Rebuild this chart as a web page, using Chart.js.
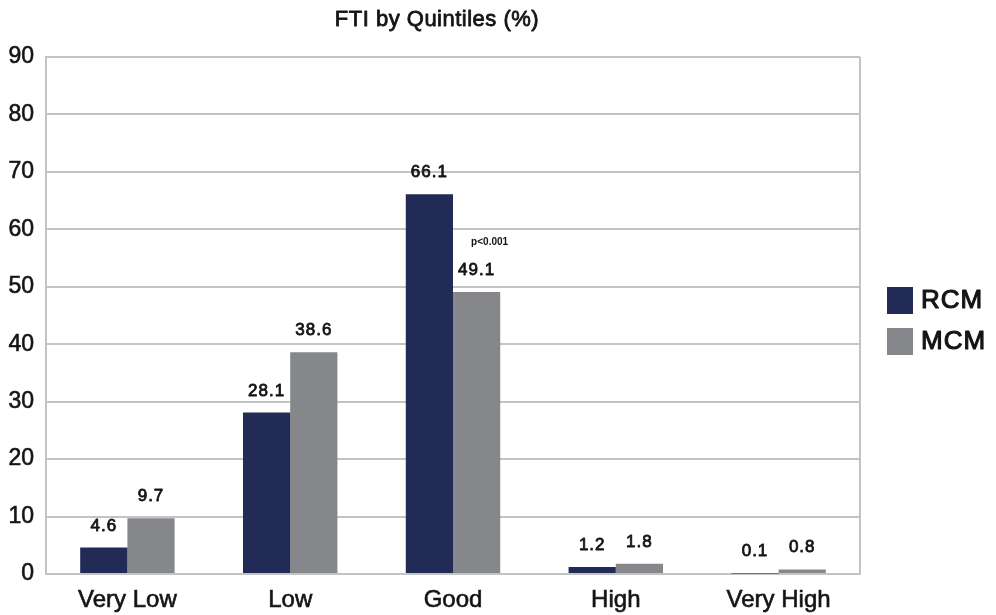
<!DOCTYPE html>
<html>
<head>
<meta charset="utf-8">
<script src="https://cdn.jsdelivr.net/npm/chart.js@4/dist/chart.umd.min.js"></script>
<style>
  html, body { margin: 0; padding: 0; background: #fff; }
  #wrap { width: 996px; height: 615px; position: relative; }
</style>
</head>
<body>
<div id="wrap"><canvas id="c" width="996" height="615"></canvas></div>
<script>
// Quintile categories and the share of each group (%)
const categories = ['Very Low', 'Low', 'Good', 'High', 'Very High'];
const rcmValues = [4.6, 28.1, 66.1, 1.2, 0.1];
const mcmValues = [9.7, 38.6, 49.1, 1.8, 0.8];
const seriesNames = ['RCM', 'MCM'];
const yTicks = [0, 10, 20, 30, 40, 50, 60, 70, 80, 90];
const chartTitle = 'FTI by Quintiles (%)';
const pNote = 'p<0.001';

const FONT = '"Liberation Sans", Arial, Helvetica, sans-serif';
const COLORS = ['#222b55', '#86878b'];
const GRID = '#c3c3c3';
const INK = '#141414';

// text with a thin outline in the same ink, for a medium weight
function heavyText(ctx, text, x, y, w) {
  ctx.lineWidth = w;
  ctx.strokeStyle = ctx.fillStyle;
  ctx.lineJoin = 'round';
  ctx.strokeText(text, x, y);
  ctx.fillText(text, x, y);
}

const decor = {
  id: 'decor',
  beforeDatasetsDraw(chart) {
    const { ctx, chartArea: a } = chart;
    ctx.save();
    ctx.strokeStyle = GRID;
    ctx.lineWidth = 2;
    ctx.beginPath();
    ctx.moveTo(a.right, a.top);
    ctx.lineTo(a.right, a.bottom);
    ctx.stroke();
    ctx.restore();
  },
  afterDatasetsDraw(chart) {
    const { ctx } = chart;
    const y = chart.scales.y;
    ctx.save();
    // value labels above each bar
    ctx.fillStyle = INK;
    ctx.font = '17px ' + FONT;
    ctx.letterSpacing = '1px';
    ctx.textAlign = 'center';
    ctx.textBaseline = 'alphabetic';
    chart.data.datasets.forEach((ds, di) => {
      const meta = chart.getDatasetMeta(di);
      meta.data.forEach((bar, i) => {
        heavyText(ctx, ds.data[i].toFixed(1), bar.x, bar.y - 17, 0.8);
      });
    });
    ctx.letterSpacing = '0px';
    // significance note beside the Good group
    const good = chart.getDatasetMeta(1).data[2];
    ctx.font = 'bold 10px ' + FONT;
    ctx.textBaseline = 'middle';
    ctx.fillText(pNote, good.x + 13, y.getPixelForValue(57.8));

    // title
    ctx.font = '22px ' + FONT;
    ctx.letterSpacing = '0.5px';
    heavyText(ctx, chartTitle, 437, 20, 0.8);
    ctx.letterSpacing = '0px';

    // legend
    ctx.font = '26px ' + FONT;
    ctx.letterSpacing = '1px';
    ctx.textAlign = 'left';
    seriesNames.forEach((name, k) => {
      const top = 287 + k * 41;
      ctx.fillStyle = COLORS[k];
      ctx.fillRect(887, top, 26, 27);
      ctx.fillStyle = INK;
      heavyText(ctx, name, 921, top + 14, 1.1);
    });
    ctx.restore();
  }
};

new Chart(document.getElementById('c'), {
  type: 'bar',
  data: {
    labels: categories,
    datasets: [
      { label: seriesNames[0], data: rcmValues, backgroundColor: COLORS[0], categoryPercentage: 0.58, barPercentage: 1 },
      { label: seriesNames[1], data: mcmValues, backgroundColor: COLORS[1], categoryPercentage: 0.58, barPercentage: 1 }
    ]
  },
  options: {
    responsive: false,
    animation: false,
    layout: { padding: { top: 57, right: 136, left: 0, bottom: 0 } },
    plugins: { legend: { display: false }, title: { display: false }, tooltip: { enabled: false } },
    scales: {
      x: {
        grid: { display: false },
        border: { color: GRID, width: 2 },
        ticks: { color: INK, font: { family: FONT, size: 24 }, padding: 4, maxRotation: 0,
                 textStrokeColor: INK, textStrokeWidth: 0.6 },
        afterFit(s) { s.height = 41; }
      },
      y: {
        min: 0, max: 90,
        afterBuildTicks(s) { s.ticks = yTicks.map(v => ({ value: v })); },
        grid: { color: GRID, lineWidth: 2, drawTicks: false },
        border: { color: GRID, width: 2 },
        ticks: { color: INK, font: { family: FONT, size: 23 }, padding: 12,
                 textStrokeColor: INK, textStrokeWidth: 0.6 },
        afterFit(s) { s.width = 46; }
      }
    }
  },
  plugins: [decor]
});
</script>
</body>
</html>
